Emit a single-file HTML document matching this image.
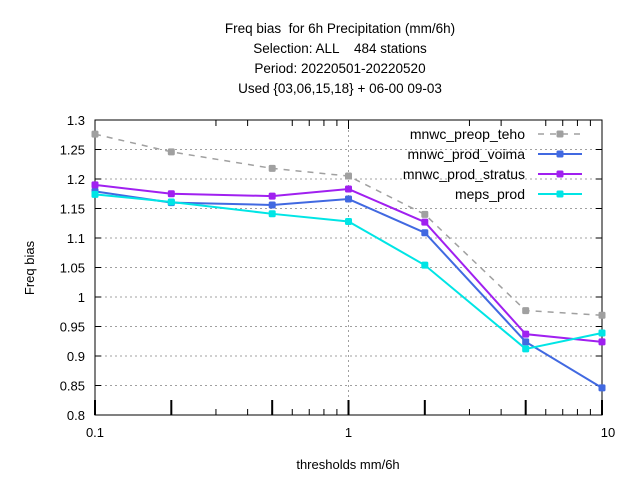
<!DOCTYPE html>
<html><head><meta charset="utf-8"><style>
body{margin:0;background:#fff}
svg{font-family:"Liberation Sans",sans-serif;font-size:13px}
text{white-space:pre}
</style></head><body>
<svg id="chart" width="640" height="480">
<g text-anchor="middle" font-size="13.5">
<text x="340" y="33">Freq bias  for 6h Precipitation (mm/6h)</text>
<text x="340" y="53">Selection: ALL    484 stations</text>
<text x="340" y="73">Period: 20220501-20220520</text>
<text x="340" y="93">Used {03,06,15,18} + 06-00 09-03</text>
</g>
<g id="grid"></g><g id="axes"></g><g id="series"></g><g id="legend"></g>
<text x="348" y="469" text-anchor="middle">thresholds mm/6h</text>
<text transform="translate(34,268) rotate(-90)" text-anchor="middle">Freq bias</text>
</svg>
<script>
const thresholds=[0.1,0.2,0.5,1,2,5,10];
const seriesNames=["mnwc_preop_teho","mnwc_prod_voima","mnwc_prod_stratus","meps_prod"];
const tehoVals=[1.276,1.246,1.218,1.205,1.140,0.977,0.969];
const voimaVals=[1.179,1.160,1.156,1.166,1.109,0.924,0.846];
const stratusVals=[1.190,1.175,1.171,1.183,1.127,0.937,0.924];
const mepsVals=[1.174,1.161,1.141,1.128,1.054,0.912,0.939];
const yTicks=[0.8,0.85,0.9,0.95,1,1.05,1.1,1.15,1.2,1.25,1.3];
const yTickLabels=["0.8","0.85","0.9","0.95","1","1.05","1.1","1.15","1.2","1.25","1.3"];
const xLabelVals=[0.1,1,10];
const xLabels=["0.1","1","10"];
const L=95,R=602,T=120,B=415;
const X=v=>L+(Math.log10(v)+1)/2*(R-L);
const Y=v=>B-(v-0.8)/0.5*(B-T);
const NS="http://www.w3.org/2000/svg";
function mk(p,tag,a){const e=document.createElementNS(NS,tag);for(const k in a)e.setAttribute(k,a[k]);p.appendChild(e);return e;}
const grid=document.getElementById('grid'),axes=document.getElementById('axes');
yTicks.forEach((v,i)=>{
 if(i>0&&i<yTicks.length-1){const g=mk(grid,'line',{x1:L,x2:R,y1:Y(v),y2:Y(v),stroke:'#a0a0a0','stroke-dasharray':'2,3'});
 
 }
 mk(axes,'line',{x1:L,x2:L+6,y1:Y(v),y2:Y(v),stroke:'#000'});
 mk(axes,'line',{x1:R,x2:R-6,y1:Y(v),y2:Y(v),stroke:'#000'});
 const t=mk(axes,'text',{x:L-10,y:Y(v)+5,'text-anchor':'end'});t.textContent=yTickLabels[i];
 
 
});
const vg=mk(grid,'line',{x1:X(1),x2:X(1),y1:T,y2:B,stroke:'#a0a0a0','stroke-dasharray':'2,3'});


thresholds.forEach(v=>{mk(axes,'line',{x1:X(v),x2:X(v),y1:B,y2:B-15,stroke:'#000','stroke-width':2});});
[0.3,0.4,0.6,0.7,0.8,0.9,3,4,6,7,8,9].forEach(v=>{mk(axes,'line',{x1:X(v),x2:X(v),y1:B,y2:B-6,stroke:'#000'});mk(axes,'line',{x1:X(v),x2:X(v),y1:T,y2:T+6,stroke:'#000'});});
[0.1,1,10].forEach(v=>mk(axes,'line',{x1:X(v),x2:X(v),y1:T,y2:T+9,stroke:'#000'}));
xLabelVals.forEach((v,i)=>{const t=mk(axes,'text',{x:X(v)+(i==2?6:0),y:B+22,'text-anchor':'middle'});t.textContent=xLabels[i];
 
 });
const fr=mk(axes,'rect',{x:L,y:T,width:R-L,height:B-T,fill:'none',stroke:'#000'});


const colors=['#a0a0a0','#4169e1','#a020f0','#00e5e5'];
const allVals=[tehoVals,voimaVals,stratusVals,mepsVals];
const sg=document.getElementById('series'),lg=document.getElementById('legend');
allVals.forEach((vals,s)=>{
 const dash=s===0?'6,6':'none';
 const pl=mk(sg,'polyline',{points:vals.map((v,i)=>X(thresholds[i])+','+Y(v)).join(' '),fill:'none',stroke:colors[s],'stroke-width':s===0?1.5:2,'stroke-dasharray':dash});
 
 
 vals.forEach((v,i)=>{const c=mk(sg,'rect',{x:X(thresholds[i])-3.5,y:Y(v)-3.5,width:7,height:7,rx:1.5,fill:colors[s]});
  
  });
 const ly=134+s*20;
 const t=mk(lg,'text',{x:525,y:ly+5,'text-anchor':'end','font-size':'14'});t.textContent=seriesNames[s];
 
 
 const ll=mk(lg,'line',{x1:538,x2:582,y1:ly,y2:ly,stroke:colors[s],'stroke-width':s===0?1.5:2,'stroke-dasharray':dash});
 
 
 mk(lg,'rect',{x:556.5,y:ly-3.5,width:7,height:7,rx:1.5,fill:colors[s]});
});
</script>
</body></html>
